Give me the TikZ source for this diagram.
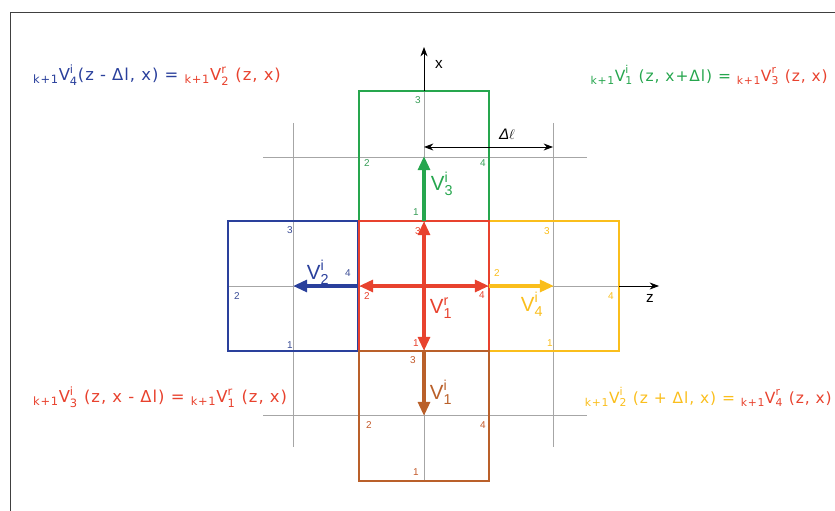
\documentclass[tikz,border=0pt]{standalone}
\usepackage{amsmath}
\usepackage{fontspec}
\setmainfont{Liberation Sans}
\newfontfamily\eqfont[LetterSpace=6]{DejaVu Sans}
\usetikzlibrary{positioning,arrows.meta}
\definecolor{redc}{RGB}{232,66,46}
\definecolor{bluec}{RGB}{42,64,156}
\definecolor{greenc}{RGB}{38,166,78}
\definecolor{yellowc}{RGB}{250,190,28}
\definecolor{brownc}{RGB}{186,96,42}
\newcommand{\pv}[3]{${}_{\text{#1}}\text{V}^{\text{#2}}_{\text{#3}}$}
\newcommand{\vl}[2]{$\text{V}^{\text{#1}}_{\text{#2}}$}

\begin{document}
\begin{tikzpicture}[x=0.03cm, y=-0.03cm,
  cell/.style={draw, line width=2.5pt, minimum size=3.9cm, inner sep=0pt, outer sep=0pt},
  gridline/.style={black!35, line width=0.7pt},
  flow/.style={line width=3pt, -{Triangle[length=12pt,width=10pt]}},
  num/.style={font=\fontsize{8.5}{10}\selectfont, inner sep=0pt},
  vlabel/.style={font=\fontsize{17.5}{19}\selectfont, inner sep=0pt},
  eqn/.style={font=\eqfont\fontsize{14}{16}\selectfont, inner sep=0pt, anchor=west},
  eqnr/.style={font=\eqfont\fontsize{13.2}{15}\selectfont, inner sep=0pt, anchor=east}]
  \useasboundingbox (0,0) rectangle (835,511);
  \draw[black!75, line width=0.8pt] (10,511) -- (10,12) -- (835,12);

  % grid
  \draw[gridline] (293,123) -- (293,447);
  \draw[gridline] (553,123) -- (553,447);
  \draw[gridline] (263,157) -- (587,157);
  \draw[gridline] (263,415) -- (587,415);
  \draw[gridline] (424,481) -- (424,91);
  \draw[gridline] (228,286) -- (620,286);

  % cells
  \node[cell, draw=greenc] (up) at (424,156) {};
  \node[cell, draw=bluec] (lft) at (293,286) {};
  \node[cell, draw=yellowc] (rgt) at (554,286) {};
  \node[cell, draw=redc] (ctr) at (424,286) {};
  \node[cell, draw=brownc] (dwn) at (424,416) {};

  % axes
  \coordinate (xtip) at (424,47);
  \coordinate (ztip) at (659,286);
  \draw[line width=0.7pt, -{Stealth[length=8pt,width=6pt]}] (up.north) -- (xtip);
  \draw[line width=0.7pt, -{Stealth[length=8pt,width=6pt]}] (rgt.east) -- (ztip);
  \node[font=\fontsize{13}{15}\selectfont] (xlab) at (439,64) {x};
  \node[font=\fontsize{13}{15}\selectfont] (zlab) at (650,298) {z};

  % spacing
  \coordinate (dla) at (424,147);
  \coordinate (dlb) at (553,147);
  \draw[line width=0.8pt, {Stealth[length=8pt,width=6pt]}-{Stealth[length=8pt,width=6pt]}] (dla) -- (dlb);
  \node[font=\fontsize{13}{15}\selectfont] (dl) at (507,134) {{\itshape Δ}$\ell$};

  % corner numbers
  \node[num, greenc!80!gray] at ([shift={(-6,9)}]up.north) {3};
  \node[num, greenc!80!gray] at ([shift={(-8,-9)}]up.south) {1};
  \node[num, greenc!80!gray] at ([shift={(8,7)}]up.west) {2};
  \node[num, greenc!80!gray] at ([shift={(-6,7)}]up.east) {4};
  \node[num, bluec!80!gray] at ([shift={(-3,9)}]lft.north) {3};
  \node[num, bluec!80!gray] at ([shift={(-3,-6)}]lft.south) {1};
  \node[num, bluec!80!gray] at ([shift={(9,10)}]lft.west) {2};
  \node[num, bluec!80!gray] at ([shift={(-10,-13)}]lft.east) {4};
  \node[num, redc] at ([shift={(-6,10)}]ctr.north) {3};
  \node[num, redc] at ([shift={(-8,-8)}]ctr.south) {1};
  \node[num, redc] at ([shift={(8,10)}]ctr.west) {2};
  \node[num, redc] at ([shift={(-7,9)}]ctr.east) {4};
  \node[num, yellowc] at ([shift={(-7,10)}]rgt.north) {3};
  \node[num, yellowc] at ([shift={(-4,-8)}]rgt.south) {1};
  \node[num, yellowc] at ([shift={(8,-13)}]rgt.west) {2};
  \node[num, yellowc] at ([shift={(-8,10)}]rgt.east) {4};
  \node[num, brownc!80!redc] at ([shift={(-11,9)}]dwn.north) {3};
  \node[num, brownc!80!redc] at ([shift={(-8,-9)}]dwn.south) {1};
  \node[num, brownc!80!redc] at ([shift={(10,9)}]dwn.west) {2};
  \node[num, brownc!80!redc] at ([shift={(-6,9)}]dwn.east) {4};

  % velocities
  \draw[flow, greenc] (up.south) -- (up.center);
  \draw[flow, bluec] (lft.east) -- (lft.center);
  \draw[flow, yellowc] (rgt.west) -- (rgt.center);
  \draw[flow, brownc] (dwn.north) -- (dwn.center);
  \draw[flow, redc] (ctr.center) -- (ctr.north);
  \draw[flow, redc] (ctr.center) -- (ctr.south);
  \draw[flow, redc] (ctr.center) -- (ctr.west);
  \draw[flow, redc] (ctr.center) -- (ctr.east);
  \node[vlabel, greenc] (v3) at (442,184) {\vl{i}{3}};
  \node[vlabel, bluec] (v2) at (318,272) {\vl{i}{2}};
  \node[vlabel, yellowc] (v4) at (532,304) {\vl{i}{4}};
  \node[vlabel, redc] (v1r) at (441,308) {\vl{r}{1}};
  \node[vlabel, brownc] (v1) at (441,392) {\vl{i}{1}};

  % boundary relations
  \node[eqn] (eqa) at (33,75) {\color{bluec}\pv{k+1}{i}{4}(z - Δl, x) = \color{redc}\pv{k+1}{r}{2} (z, x)};
  \node[eqnr] (eqb) at (828,75) {\color{greenc}\pv{k+1}{i}{1} (z, x+Δl) = \color{redc}\pv{k+1}{r}{3} (z, x)};
  \node[eqn, redc] (eqc) at (33,397) {\pv{k+1}{i}{3} (z, x - Δl) = \pv{k+1}{r}{1} (z, x)};
  \node[eqnr] (eqd) at (832,397) {\color{yellowc}\pv{k+1}{i}{2} (z + Δl, x) = \color{redc}\pv{k+1}{r}{4} (z, x)};
\end{tikzpicture}
\end{document}
